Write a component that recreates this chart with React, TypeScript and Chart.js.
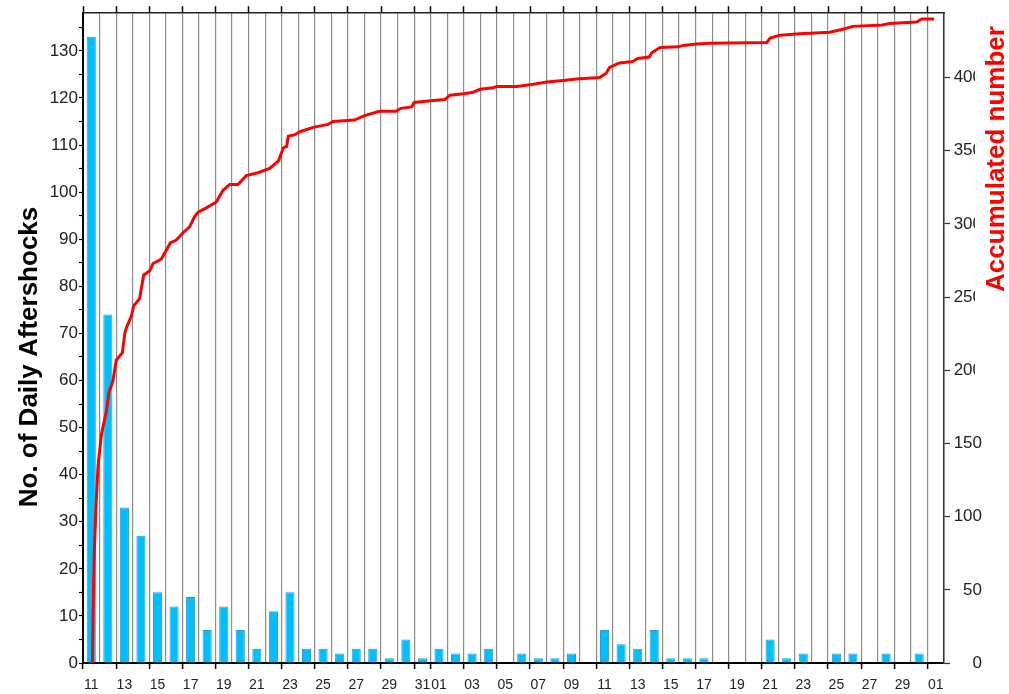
import React, { useEffect, useRef } from 'react';
import { Chart, registerables } from 'chart.js';

Chart.register(...registerables);

// Days from 11 Oct to 1 Dec
const categories = [
  'Oct 11', 'Oct 12', 'Oct 13', 'Oct 14', 'Oct 15', 'Oct 16', 'Oct 17', 'Oct 18', 'Oct 19', 'Oct 20',
  'Oct 21', 'Oct 22', 'Oct 23', 'Oct 24', 'Oct 25', 'Oct 26', 'Oct 27', 'Oct 28', 'Oct 29', 'Oct 30', 'Oct 31',
  'Nov 01', 'Nov 02', 'Nov 03', 'Nov 04', 'Nov 05', 'Nov 06', 'Nov 07', 'Nov 08', 'Nov 09', 'Nov 10',
  'Nov 11', 'Nov 12', 'Nov 13', 'Nov 14', 'Nov 15', 'Nov 16', 'Nov 17', 'Nov 18', 'Nov 19', 'Nov 20',
  'Nov 21', 'Nov 22', 'Nov 23', 'Nov 24', 'Nov 25', 'Nov 26', 'Nov 27', 'Nov 28', 'Nov 29', 'Nov 30',
  'Dec 01',
];

const xTickLabels = [
  '11', '', '13', '', '15', '', '17', '', '19', '', '21', '', '23', '', '25', '', '27', '', '29', '', '31',
  '01', '', '03', '', '05', '', '07', '', '09', '', '11', '', '13', '', '15', '', '17', '', '19', '',
  '21', '', '23', '', '25', '', '27', '', '29', '',
  '01',
];

const dailyCounts = [
  133, 74, 33, 27, 15, 12, 14, 7, 12, 7, 3, 11, 15, 3, 3, 2, 3, 3, 1, 5, 1,
  3, 2, 2, 3, 0, 2, 1, 1, 2, 0, 7, 4, 3, 7, 1, 1, 1, 0, 0, 0,
  5, 1, 2, 0, 2, 2, 0, 2, 0, 2,
  0,
];

// Accumulated number: time in days since 11 Oct 00:00, and running count
const cumDays = [
  0.57, 0.62, 0.68, 0.78, 0.91, 1.11, 1.41, 1.57, 1.81, 2.01, 2.38, 2.52, 2.62, 2.92, 3.06,
  3.42, 3.66, 4.03, 4.23, 4.73, 5.03, 5.27, 5.64, 6.04, 6.44, 6.74, 6.95, 7.45, 8.05, 8.46,
  8.86, 9.36, 9.86, 10.57, 11.27, 11.8, 12.1, 12.3, 12.4, 12.8, 13.1, 13.9, 14.8, 15.1, 16.4,
  17.0, 17.9, 18.9, 19.2, 19.85, 20.0, 20.85, 21.86, 22.16, 22.97, 23.57, 23.98, 24.78, 24.98,
  26.2, 27.2, 28.0, 29.0, 29.8, 31.2, 31.6, 31.8, 32.4, 33.2, 33.5, 34.2, 34.35, 34.85, 35.95,
  36.25, 37.06, 37.87, 41.3, 41.5, 42.1, 43.3, 45.1, 45.9, 46.5, 48.3, 48.7, 50.35, 50.65, 51.4,
];
const cumCounts = [
  0, 40, 75, 106, 135, 156, 172, 185, 193, 207, 212, 225, 229, 237, 244,
  249, 265, 268, 273, 276, 282, 287, 289, 294, 298, 305, 308, 311, 315, 323,
  327, 327, 333, 335, 338, 343, 352, 353, 360, 361, 363, 366, 368, 370, 371,
  374, 377, 377, 379, 380, 383, 384, 385, 388, 389, 390, 392, 393, 394,
  394, 395.5, 397, 398, 399, 400, 403, 407, 410, 411, 413, 414, 417, 420.5, 421,
  422, 423, 423.5, 424, 427, 429, 430, 431, 433, 435, 436, 437, 438, 440, 440,
];

const leftMax = 138;
const rightMax = 444;
const leftTitle = 'No. of Daily Aftershocks';
const rightTitle = 'Accumulated number';

const FONT = '"Liberation Sans", Arial, Helvetica, sans-serif';

export default function App() {
  const ref = useRef<HTMLCanvasElement>(null);

  useEffect(() => {
    const canvas = ref.current;
    if (!canvas) return;
    const titles = {
      id: 'axisTitles',
      afterDraw(chart: any) {
        const c = chart.ctx as CanvasRenderingContext2D;
        c.save();
        c.fillStyle = '#ffffff';
        c.fillRect(975, 0, 40, 405);
        c.font = `bold 26px ${FONT}`;
        c.textAlign = 'center';
        c.textBaseline = 'middle';
        c.fillStyle = '#000000';
        c.translate(30, 357);
        c.rotate(-Math.PI / 2);
        c.fillText(leftTitle, 0, 0);
        c.restore();
        c.save();
        c.font = `bold 26px ${FONT}`;
        c.textAlign = 'center';
        c.textBaseline = 'middle';
        c.fillStyle = '#ff0000';
        c.translate(997, 159);
        c.rotate(-Math.PI / 2);
        c.fillText(rightTitle, 0, 0);
        c.restore();
      },
    };

    const tickCol = (ctx: any) => (xTickLabels[ctx.index] ? '#000000' : 'rgba(0,0,0,0)');

    const chart = new Chart(canvas, {
      type: 'bar',
      data: {
        labels: categories,
        datasets: [
          {
            type: 'line',
            label: 'Accumulated',
            data: cumDays.map((d, i) => ({ x: d, y: cumCounts[i] })),
            xAxisID: 'xl',
            yAxisID: 'y2',
            borderColor: '#ff0000',
            borderWidth: 3,
            pointRadius: 0,
            tension: 0,
            fill: false,
            order: 0,
          } as any,
          {
            type: 'bar',
            label: 'Daily',
            data: dailyCounts,
            xAxisID: 'x',
            yAxisID: 'y',
            backgroundColor: '#00bfff',
            borderColor: '#2a9ccc',
            borderWidth: 1,
            grouped: false,
            categoryPercentage: 1,
            barPercentage: 0.55,
            order: 1,
          },
        ],
      },
      options: {
        responsive: false,
        animation: false,
        devicePixelRatio: 1,
        layout: { padding: { left: 0, right: 27, top: 0, bottom: 0 } },
        plugins: { legend: { display: false }, tooltip: { enabled: false }, title: { display: false } },
        scales: {
          x: {
            type: 'category',
            position: 'bottom',
            offset: true,
            grid: {
              offset: true,
              color: '#8c8c8c',
              lineWidth: 1.2,
              drawTicks: true,
              tickLength: 6,
              tickColor: tickCol,
              tickWidth: 1.5,
            },
            border: { display: true, color: '#000000', width: 2 },
            ticks: {
              autoSkip: false,
              maxRotation: 0,
              minRotation: 0,
              padding: 8,
              color: '#222222',
              font: { size: 14, family: FONT },
              callback: (_v: any, i: number) => xTickLabels[i],
            },
            afterFit: (s: any) => { s.height = 31; },
          },
          x2: {
            type: 'category',
            position: 'top',
            offset: true,
            grid: {
              offset: true,
              drawOnChartArea: false,
              drawTicks: true,
              tickLength: 7,
              tickColor: tickCol,
              tickWidth: 1.5,
            },
            border: { display: true, color: '#222222', width: 1.5 },
            ticks: { display: false },
            afterFit: (s: any) => { s.height = 11; },
          },
          xl: {
            type: 'linear',
            display: false,
            offset: false,
            grid: { offset: false },
            bounds: 'data',
            min: 0,
            max: categories.length,
          },
          y: {
            type: 'linear',
            position: 'left',
            min: 0,
            max: leftMax,
            grid: { drawOnChartArea: false, tickLength: 4, tickColor: '#000000', tickWidth: 1.2 },
            border: { display: true, color: '#000000', width: 2 },
            ticks: {
              stepSize: 5,
              includeBounds: false,
              padding: 1,
              color: '#222222',
              font: { size: 17, family: FONT },
              callback: (v: any) => (Number(v) % 10 === 0 ? String(v) : ''),
            },
            afterFit: (s: any) => { s.width = 83; },
          },
          y2: {
            type: 'linear',
            position: 'right',
            min: 0,
            max: rightMax,
            grid: { drawOnChartArea: false, tickLength: 6, tickColor: '#333333', tickWidth: 1.2 },
            border: { display: true, color: '#333333', width: 1.5 },
            ticks: {
              stepSize: 50,
              includeBounds: false,
              padding: 3,
              crossAlign: 'far',
              color: '#222222',
              font: { size: 17, family: FONT },
            },
            afterFit: (s: any) => { s.width = 38; },
          },
        },
      },
      plugins: [titles],
    } as any);

    return () => chart.destroy();
  }, []);

  return (
    <canvas
      ref={ref}
      width={1009}
      height={694}
      style={{ position: 'absolute', left: 0, top: 0, display: 'block', width: 1009, height: 694 }}
    />
  );
}
